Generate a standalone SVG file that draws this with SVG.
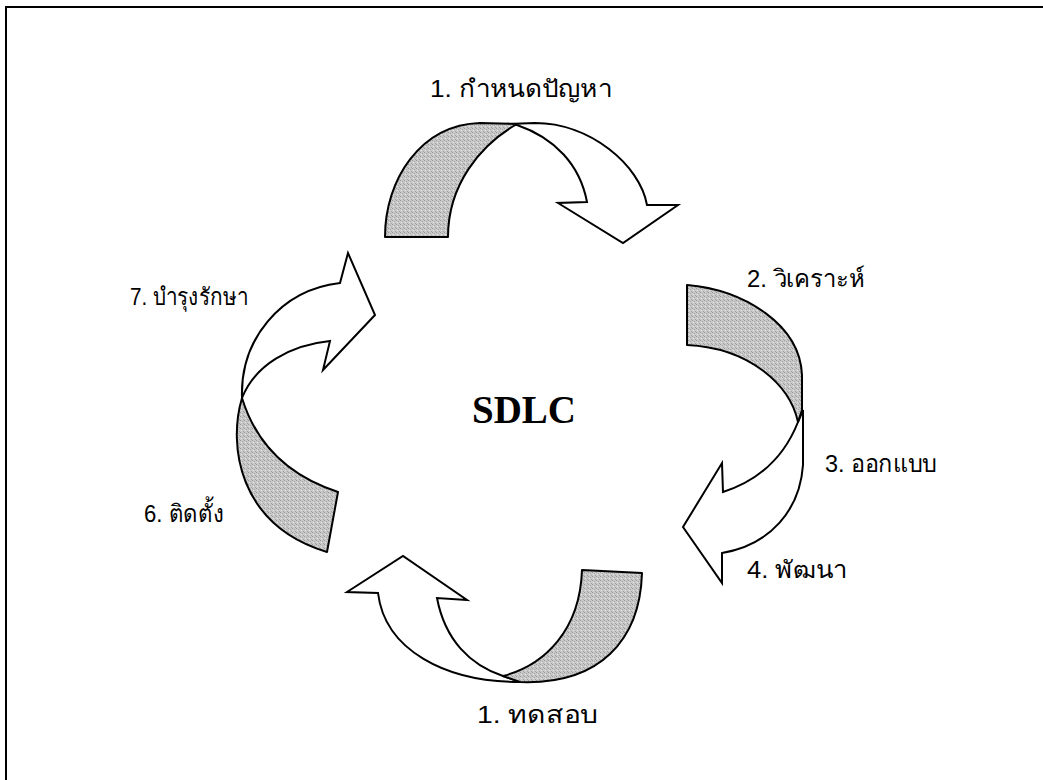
<svg xmlns="http://www.w3.org/2000/svg" width="1043" height="780" viewBox="0 0 1043 780">
  <style>
    .frame { fill: none; stroke: #000; stroke-width: 2; }
    .band { fill: url(#stipple); stroke: #000; stroke-width: 2; stroke-linejoin: round; }
    .arrow { fill: #fff; stroke: #000; stroke-width: 2; stroke-linejoin: miter; }
    .label { font-family: "Liberation Sans", "DejaVu Sans", sans-serif; font-size: 24px; fill: #000; }
    .title { font-family: "Liberation Serif", serif; font-weight: bold; font-size: 39px; fill: #000; }
  </style>
  <defs>
    <!-- fine grey stipple for the back side of each ribbon -->
    <pattern id="stipple" width="4" height="4" patternUnits="userSpaceOnUse">
      <rect width="4" height="4" fill="#c8c8c8"/>
      <rect x="0" y="0" width="1" height="1" fill="#9a9a9a"/>
      <rect x="2" y="1" width="1" height="1" fill="#a8a8a8"/>
      <rect x="1" y="2" width="1" height="1" fill="#e4e4e4"/>
      <rect x="3" y="3" width="1" height="1" fill="#a4a4a4"/>
    </pattern>
  </defs>

  <rect x="0" y="0" width="1043" height="780" fill="#fff"/>
  <rect class="frame" x="6" y="7" width="1050" height="790"/>

  <g id="connectors">
    <!-- top ribbon: define problem -->
    <g id="step-define">
      <path class="arrow" d="M505,124 L535,123 C590,123 640,165 647,205 L678,205 L623,243 L558,203 L587,202 C580,165 555,138 517,125 Z"/>
      <path class="band" d="M385,237 C385,180 420,125 480,123 L517,124 C480,145 448,185 448,237 Z"/>
    </g>
    <!-- right ribbon: analyse / design -->
    <g id="step-analyse">
      <path class="arrow" d="M798,422 L803,410 L803,465 C800,510 770,545 722,553 L722,583 L683,527 L722,463 L723,492 C760,480 785,455 798,422 Z"/>
      <path class="band" d="M687,285 C745,290 800,325 802,375 L802,410 L798,422 C790,385 750,348 687,345 Z"/>
    </g>
    <!-- bottom ribbon: test -->
    <g id="step-test">
      <path class="arrow" d="M520,682 C445,682 385,650 378,593 L347,592 L403,556 L467,600 L437,598 C445,640 470,665 503,676 Z"/>
      <path class="band" d="M582,570 L642,573 C640,640 600,685 520,682 L503,676 C545,665 580,630 582,570 Z"/>
    </g>
    <!-- left ribbon: install / maintain -->
    <g id="step-maintain">
      <path class="arrow" d="M242,398 C240,340 280,290 340,283 L348,253 L375,315 L323,370 L330,341 C290,345 255,365 242,398 Z"/>
      <path class="band" d="M242,398 C228,445 238,525 327,552 L338,492 C295,478 258,450 242,398 Z"/>
    </g>
  </g>

  <g id="labels">
    <text id="label-1" class="label" x="430" y="97" textLength="182" lengthAdjust="spacingAndGlyphs">1. กำหนดปัญหา</text>
    <text id="label-2" class="label" x="747" y="287" textLength="118" lengthAdjust="spacingAndGlyphs">2. วิเคราะห์</text>
    <text id="label-3" class="label" x="825" y="472" textLength="112" lengthAdjust="spacingAndGlyphs">3. ออกแบบ</text>
    <text id="label-4" class="label" x="747" y="578" textLength="100" lengthAdjust="spacingAndGlyphs">4. พัฒนา</text>
    <text id="label-5" class="label" x="477" y="723" textLength="121" lengthAdjust="spacingAndGlyphs">1. ทดสอบ</text>
    <text id="label-6" class="label" x="224" y="522" text-anchor="end" textLength="80" lengthAdjust="spacingAndGlyphs">6. ติดตั้ง</text>
    <text id="label-7" class="label" x="248" y="305" text-anchor="end" textLength="118" lengthAdjust="spacingAndGlyphs">7. บำรุงรักษา</text>
  </g>

  <g id="center">
    <text class="title" x="472" y="423">SDLC</text>
  </g>
</svg>
